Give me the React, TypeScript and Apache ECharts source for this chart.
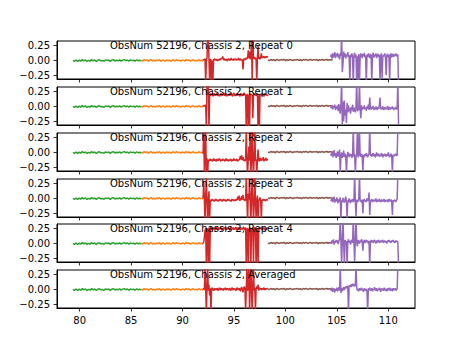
import React, { useEffect, useRef } from "react";
import * as echarts from "echarts";

// ---- data ----
const panelTitles = [
  "ObsNum 52196, Chassis 2, Repeat 0",
  "ObsNum 52196, Chassis 2, Repeat 1",
  "ObsNum 52196, Chassis 2, Repeat 2",
  "ObsNum 52196, Chassis 2, Repeat 3",
  "ObsNum 52196, Chassis 2, Repeat 4",
  "ObsNum 52196, Chassis 2, Averaged",
];
const xTicks = [80, 85, 90, 95, 100, 105, 110];
const yTicks = [-0.25, 0, 0.25];

const greenRange = [79.35, 86.0];
const orangeRange = [86.0, 92.0];
const redRange = [92.0, 98.3];
const brownRange = [98.3, 104.6];
const purpleRange = [104.4, 111.0];

const greenVals = [0.0, -0.015, 0.008, -0.018, 0.005, -0.012, 0.015, -0.006, 0.009, -0.016, 0.003, -0.011, 0.014, -0.005, 0.008, -0.017, 0.006, 0.012, -0.008, 0.002, -0.014, 0.011, -0.003, 0.009, -0.015, 0.005, 0.014, -0.009, 0.003, -0.006, 0.012, -0.011, 0.006, 0.015, -0.005, 0.008, -0.012, 0.009, -0.003, 0.005, -0.01, 0.012, -0.007, 0.004, -0.013];
const orangeVals = [0.006, -0.009, 0.014, -0.003, 0.011, -0.014, 0.005, 0.015, -0.008, 0.003, -0.012, 0.009, -0.005, 0.014, -0.015, 0.006, 0.002, -0.011, 0.012, -0.006, 0.008, -0.014, 0.003, 0.011, -0.009, 0.015, -0.003, 0.006, -0.012, 0.009, 0.002, -0.008, 0.014, -0.005, 0.009, -0.011, 0.005, 0.012, -0.006, 0.003, -0.01, 0.013, -0.004, 0.007, -0.009];
const brownVals = [0.01, -0.004, 0.017, 0.004, 0.014, -0.006, 0.019, 0.007, 0.0, 0.016, 0.005, 0.018, -0.005, 0.013, 0.003, 0.017, 0.008, -0.002, 0.015, 0.006, 0.019, 0.002, 0.013, -0.004, 0.016, 0.005, 0.02, 0.0, 0.011, 0.017, 0.003, 0.014, 0.006, 0.019, -0.002, 0.013, 0.005, 0.016, 0.002, 0.011, 0.018, 0.004, 0.014, 0.007, 0.012];

const redRepeat0 = [
  0.0, 0.02, 0.01, 0.03, -0.4, 0.02, 0.04, 0.45, 0.4, 0.03,
  -0.38, 0.01, 0.02, -0.36, 0.0, -0.34, 0.02, 0.01, 0.03, 0.0,
  0.02, 0.01, -0.01, 0.02, 0.0, 0.03, 0.01, 0.02, 0.04, 0.03,
  0.07, 0.02, 0.01, 0.03, 0.0, 0.02, 0.01, -0.01, 0.02, 0.03,
  0.01, 0.0, 0.02, 0.04, 0.01, 0.02, 0.0, 0.03, 0.01, 0.02,
  0.03, 0.0, 0.02, 0.01, 0.04, 0.02, 0.0, 0.03, 0.01, 0.02,
  0.0, -0.15, 0.02, 0.03, 0.01, 0.04, 0.02, 0.05, 0.03, 0.17,
  0.04, 0.15, 0.02, 0.05, 0.4, -0.38, 0.4, 0.03, 0.06, 0.02,
  0.05, 0.01, -0.38, 0.04, 0.25, 0.03, 0.06, 0.02, 0.05, 0.12,
  0.04, 0.06, 0.05, 0.07, 0.04, 0.06, 0.05, 0.07, 0.06, 0.05,
];
const redRepeat1 = [
  0.0, 0.01, 0.02, 0.0, 0.03, -0.4, 0.4, 0.18, 0.4, -0.4,
  0.2, 0.18, 0.22, 0.19, 0.21, 0.17, 0.2, 0.22, 0.18, 0.21,
  0.19, 0.23, 0.18, 0.2, 0.21, 0.17, 0.19, 0.22, 0.2, 0.18,
  0.21, 0.19, 0.23, 0.18, 0.2, 0.22, 0.17, 0.2, 0.19, 0.21,
  0.18, 0.22, 0.2, 0.19, 0.21, 0.17, 0.2, 0.23, 0.19, 0.18,
  0.21, 0.2, 0.18, 0.22, 0.19, 0.21, 0.17, 0.2, 0.22, 0.19,
  0.18, 0.21, 0.2, 0.23, 0.19, 0.2, -0.4, 0.21, 0.18, -0.38,
  0.2, -0.36, 0.22, 0.19, 0.21, 0.18, -0.2, 0.2, 0.22, 0.19,
  0.21, 0.18, 0.2, 0.22, -0.4, 0.19, -0.38, 0.21, 0.18, 0.2,
  0.22, 0.19, 0.21, 0.17, 0.2, 0.22, 0.19, 0.21, 0.18, 0.2,
];
const redRepeat2 = [
  -0.02, 0.4, -0.4, 0.05, 0.4, -0.4, -0.1, -0.38, -0.12, -0.15,
  -0.13, -0.11, -0.14, -0.12, -0.15, -0.13, -0.1, -0.14, -0.12, -0.13,
  -0.15, -0.11, -0.13, -0.14, -0.12, -0.1, -0.13, -0.15, -0.12, -0.14,
  -0.11, -0.13, -0.12, -0.15, -0.13, -0.1, -0.14, -0.12, -0.13, -0.15,
  -0.12, -0.14, -0.11, -0.13, -0.15, -0.12, -0.14, -0.1, -0.13, -0.12,
  -0.14, -0.11, -0.13, -0.15, -0.12, -0.13, -0.1, -0.06, -0.12, -0.05,
  -0.13, -0.08, -0.14, -0.12, -0.15, -0.11, 0.4, -0.13, -0.4, -0.1,
  0.1, -0.14, 0.4, -0.38, -0.12, 0.4, -0.13, -0.4, -0.08, 0.4,
  -0.14, -0.12, -0.38, -0.11, 0.05, -0.13, -0.15, -0.09, -0.12, -0.14,
  -0.1, -0.13, -0.08, -0.15, -0.11, -0.13, -0.09, -0.14, -0.12, -0.11,
];
const redRepeat3 = [
  0.0, 0.3, -0.03, -0.4, 0.02, 0.35, -0.02, -0.4, -0.04, 0.12,
  -0.38, -0.02, -0.05, -0.03, -0.01, -0.04, -0.02, -0.05, -0.03, -0.01,
  -0.04, -0.02, -0.03, -0.05, -0.02, -0.04, -0.01, -0.03, -0.02, -0.05,
  -0.03, -0.01, -0.04, -0.02, -0.03, -0.05, -0.02, -0.04, -0.01, -0.03,
  -0.02, -0.04, -0.03, -0.05, -0.01, -0.03, -0.02, -0.04, -0.03, -0.02,
  -0.04, -0.01, -0.03, 0.03, -0.02, 0.05, -0.04, 0.01, -0.03, 0.04,
  -0.02, 0.06, -0.03, -0.01, -0.04, -0.02, 0.4, -0.03, -0.4, 0.08,
  -0.02, 0.38, -0.04, -0.4, 0.02, 0.4, -0.03, -0.38, -0.1, 0.4,
  -0.02, -0.35, -0.04, 0.05, -0.38, -0.02, -0.03, 0.02, -0.04, -0.36,
  -0.02, -0.04, -0.01, -0.03, -0.02, -0.04, -0.03, -0.01, -0.03, -0.02,
];
const redRepeat4 = [
  0.0, 0.03, 0.1, 0.22, 0.26, -0.4, 0.25, 0.24, -0.4, 0.27,
  -0.38, 0.25, 0.28, 0.23, 0.26, 0.24, 0.27, 0.25, 0.22, 0.26,
  0.28, 0.24, 0.25, 0.27, 0.23, 0.26, 0.25, 0.28, 0.24, 0.22,
  0.26, 0.25, 0.27, 0.24, 0.28, 0.23, 0.25, 0.26, 0.24, 0.27,
  0.25, 0.22, 0.26, 0.28, 0.24, 0.25, 0.27, 0.23, 0.26, 0.24,
  0.28, 0.25, 0.23, 0.27, 0.24, 0.26, 0.25, 0.22, 0.27, 0.25,
  0.24, 0.26, 0.28, 0.23, 0.25, 0.27, -0.4, 0.24, 0.26, -0.38,
  0.25, 0.23, 0.27, -0.4, 0.24, 0.26, 0.25, -0.35, 0.28, 0.24,
  0.26, -0.4, 0.25, 0.23, -0.38, 0.27, 0.24, 0.26, 0.25, 0.28,
  0.23, 0.26, 0.24, 0.27, 0.25, 0.22, 0.26, 0.24, 0.27, 0.25,
];
const redAveraged = [
  0.0, 0.02, -0.01, 0.4, 0.01, -0.4, 0.03, 0.4, -0.02, 0.08,
  -0.1, 0.02, -0.38, 0.01, 0.03, 0.0, -0.02, 0.01, 0.02, -0.01,
  0.0, 0.02, 0.01, -0.02, 0.0, 0.03, 0.01, -0.01, 0.02, 0.0,
  0.01, -0.02, 0.02, 0.0, 0.03, -0.01, 0.01, 0.02, 0.0, -0.01,
  0.02, 0.01, -0.02, 0.0, 0.03, 0.01, -0.01, 0.02, 0.0, 0.01,
  -0.02, 0.01, 0.03, 0.0, -0.01, 0.02, 0.01, -0.03, 0.02, 0.04,
  0.0, -0.05, 0.02, 0.05, 0.01, -0.38, 0.03, 0.4, -0.02, 0.02,
  0.4, -0.38, 0.04, 0.4, 0.01, -0.4, 0.06, 0.4, -0.02, 0.03,
  -0.38, 0.02, 0.05, 0.01, 0.08, -0.02, 0.03, 0.01, 0.02, -0.01,
  0.02, 0.0, 0.01, 0.03, -0.01, 0.02, 0.0, 0.01, 0.02, 0.01,
];

const purpleRepeat0 = [
  0.06, 0.1, 0.03, 0.12, 0.05, 0.09, 0.14, 0.04, 0.11, 0.07,
  0.13, 0.05, 0.1, 0.02, 0.12, 0.08, 0.42, -0.2, -0.05, 0.15,
  0.06, 0.12, 0.03, 0.1, 0.07, 0.14, 0.05, 0.09, -0.4, 0.1,
  0.06, 0.12, 0.04, -0.4, 0.08, 0.13, 0.05, 0.1, -0.4, 0.07,
  -0.38, 0.11, -0.4, 0.06, 0.12, 0.08, 0.04, 0.11, 0.07, 0.13,
  0.05, 0.09, -0.4, 0.1, 0.06, 0.12, 0.08, 0.04, 0.11, 0.07,
  -0.38, 0.09, 0.13, 0.05, 0.1, 0.07, 0.12, 0.04, 0.09, 0.11,
  0.06, 0.1, -0.35, 0.08, 0.12, -0.3, 0.05, 0.1, 0.07, 0.12,
  0.04, -0.25, 0.09, 0.11, 0.06, 0.1, -0.38, 0.08, 0.12, 0.05,
  0.09, 0.11, 0.06, 0.1, 0.08, 0.12, 0.07, 0.09, 0.1, -0.4,
];
const purpleRepeat1 = [
  0.0, -0.03, 0.02, -0.05, 0.01, -0.02, 0.03, -0.06, 0.0, -0.04,
  0.02, -0.08, 0.04, -0.05, -0.12, 0.05, 0.42, -0.3, 0.08, -0.25,
  0.1, -0.15, -0.05, -0.28, 0.06, -0.1, 0.02, -0.08, -0.03, -0.12,
  -0.01, -0.06, 0.03, -0.09, -0.02, -0.05, -0.1, 0.01, 0.42, -0.08,
  -0.03, -0.06, 0.42, -0.04, -0.2, 0.02, -0.06, -0.01, -0.04, 0.02,
  -0.05, -0.02, -0.07, 0.0, -0.04, 0.03, -0.06, 0.15, -0.03, -0.05,
  -0.01, -0.04, 0.01, -0.06, -0.02, -0.05, 0.0, -0.03, -0.06, -0.01,
  -0.04, 0.02, 0.15, -0.05, -0.02, -0.04, 0.0, -0.06, -0.03, -0.01,
  -0.05, -0.02, -0.04, 0.01, -0.06, -0.03, -0.01, -0.05, -0.02, -0.04,
  0.0, -0.03, -0.06, -0.02, -0.04, -0.01, -0.05, -0.03, 0.42, -0.3,
];
const purpleRepeat2 = [
  -0.02, -0.05, 0.01, -0.08, -0.03, 0.04, -0.06, -0.01, -0.09, -0.04,
  0.02, -0.07, -0.03, 0.05, -0.35, -0.06, 0.0, -0.09, -0.04, 0.03,
  -0.08, -0.02, -0.05, -0.35, -0.07, 0.01, -0.04, -0.08, -0.02, -0.06,
  -0.03, -0.09, -0.05, 0.42, -0.07, -0.02, -0.35, -0.06, -0.04, 0.42,
  -0.08, -0.03, 0.42, -0.05, -0.07, -0.02, -0.06, -0.32, -0.04, -0.08,
  -0.03, -0.06, -0.01, -0.05, -0.08, -0.04, -0.02, 0.42, -0.06, -0.03,
  -0.07, -0.04, -0.01, -0.06, -0.03, -0.08, -0.05, 0.0, -0.06, -0.04,
  -0.02, -0.07, -0.04, -0.06, -0.01, -0.05, -0.08, -0.03, -0.06, -0.02,
  -0.05, -0.07, -0.03, -0.06, 0.0, -0.04, -0.08, -0.05, -0.02, -0.06,
  -0.33, -0.04, -0.07, -0.03, -0.05, -0.02, -0.06, -0.04, 0.42, 0.42,
];
const purpleRepeat3 = [
  -0.02, -0.04, 0.01, -0.06, -0.02, 0.03, -0.07, -0.01, -0.05, 0.02,
  -0.04, -0.08, -0.01, -0.05, 0.02, -0.35, -0.03, -0.06, 0.01, -0.04,
  -0.07, -0.02, 0.03, -0.05, -0.35, -0.03, -0.06, 0.0, -0.04, -0.08,
  -0.02, -0.05, -0.01, -0.06, -0.03, 0.42, -0.05, -0.3, -0.02, -0.06,
  -0.04, -0.01, 0.42, -0.05, -0.03, -0.07, -0.02, -0.25, -0.04, -0.01,
  -0.05, -0.03, -0.06, 0.0, -0.04, -0.02, 0.1, -0.28, -0.05, -0.03,
  -0.01, -0.06, -0.04, -0.02, -0.05, -0.03, 0.0, -0.06, -0.04, -0.02,
  -0.05, -0.01, -0.04, -0.06, -0.03, -0.02, -0.05, -0.04, -0.01, -0.06,
  -0.03, -0.05, -0.02, -0.04, -0.06, -0.01, -0.03, -0.05, -0.02, -0.04,
  -0.28, -0.03, -0.05, -0.02, -0.04, -0.06, -0.03, -0.01, 0.42, 0.42,
];
const purpleRepeat4 = [
  0.03, 0.0, 0.05, 0.02, 0.07, -0.02, 0.04, 0.01, 0.06, 0.02,
  0.05, -0.01, 0.04, 0.08, 0.42, 0.02, -0.35, 0.05, 0.42, 0.0,
  -0.35, 0.06, 0.02, 0.04, -0.38, 0.03, 0.07, 0.01, 0.05, -0.02,
  0.04, 0.06, 0.01, 0.42, 0.03, -0.3, 0.05, 0.42, 0.02, -0.05,
  0.06, 0.03, 0.0, 0.05, 0.02, 0.07, 0.04, -0.12, 0.03, 0.06,
  0.01, 0.04, 0.06, 0.02, 0.05, 0.0, 0.04, -0.38, 0.03, 0.06,
  0.02, 0.05, 0.01, 0.04, 0.06, 0.03, 0.0, 0.05, 0.02, 0.04,
  0.06, 0.01, 0.03, 0.05, 0.02, 0.04, 0.06, 0.01, 0.03, 0.05,
  0.02, 0.04, 0.0, 0.05, 0.03, 0.06, 0.02, 0.04, 0.01, 0.05,
  0.03, 0.06, 0.02, 0.04, 0.01, 0.05, 0.03, 0.04, 0.02, -0.38,
];
const purpleAveraged = [
  0.01, -0.02, 0.03, -0.04, 0.0, 0.02, -0.05, 0.01, -0.02, 0.03,
  -0.03, 0.0, 0.04, -0.02, 0.42, -0.06, 0.02, -0.03, 0.01, 0.04,
  -0.01, 0.03, 0.05, 0.02, 0.06, 0.04, -0.38, 0.07, 0.05, 0.08,
  0.04, 0.09, 0.06, 0.1, 0.05, 0.08, 0.06, 0.42, 0.03, -0.02,
  0.01, -0.03, 0.02, -0.01, 0.0, 0.03, -0.02, 0.01, -0.04, 0.02,
  0.0, -0.02, 0.01, -0.03, -0.38, 0.02, -0.01, 0.03, -0.02, 0.0,
  0.02, -0.03, 0.01, -0.01, 0.04, 0.0, -0.02, 0.02, -0.03, 0.01,
  -0.01, 0.03, 0.0, -0.04, 0.02, -0.01, 0.01, -0.02, 0.03, 0.0,
  -0.02, 0.01, -0.03, 0.02, 0.0, -0.01, 0.03, -0.02, 0.01, 0.0,
  -0.03, 0.02, 0.0, -0.01, 0.02, -0.02, 0.01, 0.0, 0.42, 0.42,
];

const redByPanel = [redRepeat0, redRepeat1, redRepeat2, redRepeat3, redRepeat4, redAveraged];
const purpleByPanel = [purpleRepeat0, purpleRepeat1, purpleRepeat2, purpleRepeat3, purpleRepeat4, purpleAveraged];

// ---- layout / style ----
const COLORS = {
  green: "#2ca02c",
  orange: "#ff7f0e",
  red: "#d62728",
  brown: "#8c564b",
  purple: "#9467bd",
};
const GRID_LEFT = 57;
const GRID_WIDTH = 358;
const GRID_HEIGHT = 38;
const GRID_TOPS = [41, 87, 133, 179, 224, 270];
const X_MIN = 77.8;
const X_MAX = 112.6;
const Y_MIN = -0.313;
const Y_MAX = 0.329;
const FONT = "DejaVu Sans";

function toPairs(range: number[], values: number[]) {
  const n = values.length;
  const step = (range[1] - range[0]) / (n - 1);
  return values.map((v, i) => [range[0] + i * step, v]);
}

function fmtY(v: number) {
  return v.toFixed(2).replace("-", "\u2212");
}

export default function App() {
  const ref = useRef<HTMLDivElement>(null);
  useEffect(() => {
    if (!ref.current) return;
    const chart = echarts.init(ref.current, undefined, { renderer: "svg" });
    const grids: any[] = [];
    const xAxes: any[] = [];
    const yAxes: any[] = [];
    const titles: any[] = [];
    const series: any[] = [];
    GRID_TOPS.forEach((top, k) => {
      const isLast = k === GRID_TOPS.length - 1;
      grids.push({
        left: GRID_LEFT,
        top,
        width: GRID_WIDTH,
        height: GRID_HEIGHT,
        show: true,
        borderColor: "#000",
        borderWidth: 1,
        backgroundColor: "transparent",
      });
      xAxes.push({
        type: "value",
        gridIndex: k,
        position: "bottom",
        min: X_MIN,
        max: X_MAX,
        axisLine: { show: true, onZero: false, lineStyle: { color: "#000", width: 1 } },
        splitLine: { show: false },
        axisTick: {
          show: true,
          length: 3.5,
          inside: false,
          customValues: xTicks,
          lineStyle: { color: "#000", width: 0.8 },
        },
        axisLabel: {
          show: isLast,
          customValues: xTicks,
          fontSize: 10,
          fontFamily: FONT,
          color: "#000",
          margin: 7,
          formatter: (v: number) => String(v),
        },
      });
      yAxes.push({
        type: "value",
        gridIndex: k,
        position: "left",
        min: Y_MIN,
        max: Y_MAX,
        axisLine: { show: true, onZero: false, lineStyle: { color: "#000", width: 1 } },
        splitLine: { show: false },
        axisTick: {
          show: true,
          length: 3.5,
          inside: false,
          customValues: yTicks,
          lineStyle: { color: "#000", width: 0.8 },
        },
        axisLabel: {
          show: true,
          customValues: yTicks,
          fontSize: 10,
          fontFamily: FONT,
          color: "#000",
          margin: 7,
          formatter: fmtY,
        },
      });
      titles.push({
        text: panelTitles[k],
        left: 110,
        top: top - 1,
        padding: 0,
        textStyle: { fontSize: 10, fontWeight: "normal", fontFamily: FONT, color: "#000" },
      });
      const segs: [string, number[], number[]][] = [
        [COLORS.green, greenRange, greenVals],
        [COLORS.orange, orangeRange, orangeVals],
        [COLORS.red, redRange, redByPanel[k]],
        [COLORS.brown, brownRange, brownVals],
        [COLORS.purple, purpleRange, purpleByPanel[k]],
      ];
      segs.forEach(([color, range, vals]) => {
        series.push({
          type: "line",
          xAxisIndex: k,
          yAxisIndex: k,
          data: toPairs(range, vals),
          showSymbol: false,
          symbol: "none",
          clip: true,
          lineStyle: { color, width: 1.5 },
          itemStyle: { color },
          emphasis: { disabled: true },
        });
      });
    });
    chart.setOption({
      animation: false,
      backgroundColor: "#fff",
      title: titles,
      grid: grids,
      xAxis: xAxes,
      yAxis: yAxes,
      series,
    });
    return () => chart.dispose();
  }, []);
  return (
    <div
      ref={ref}
      style={{ position: "fixed", left: 0, top: 0, width: 461, height: 346, background: "#fff" }}
    />
  );
}
